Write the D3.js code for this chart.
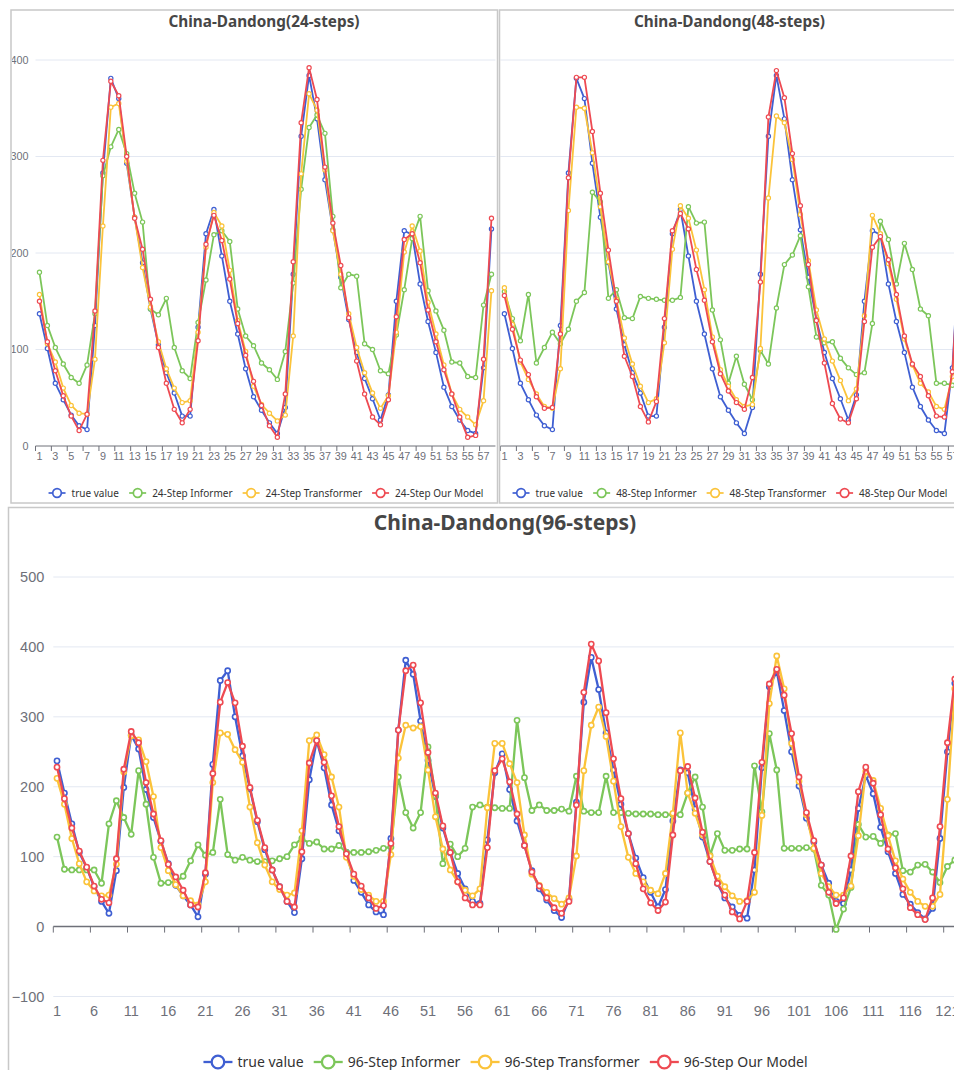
<!DOCTYPE html>
<html>
<head>
<meta charset="utf-8">
<script src="https://cdn.jsdelivr.net/npm/d3@7"></script>
<style>
  body { margin: 0; background: #fff; }
  svg { display: block; font-family: "Noto Sans", "Open Sans", sans-serif; }
</style>
</head>
<body>
<svg id="chart" width="954" height="1070"></svg>
<script>
// ---- data ----
const colors = ["#3f5fd2", "#7cc65a", "#fbc33a", "#ee4a52"];

const steps58 = d3.range(1, 59);
const steps122 = d3.range(1, 123);

// shared true value for the 24 / 48 step panels
const trueValue = [137, 101, 65, 48, 32, 21, 17, 125, 283, 381, 360, 293, 237, 190, 142, 105, 76, 55, 31, 31,
  123, 220, 245, 197, 150, 116, 80, 51, 37, 24, 13, 40, 178, 321, 384, 339, 276, 224, 175, 131,
  97, 70, 49, 27, 53, 150, 223, 219, 168, 129, 97, 61, 41, 27, 16, 13, 81, 225];

const informer24 = [180, 125, 102, 85, 71, 65, 84, 137, 280, 310, 328, 303, 262, 232, 142, 136, 153, 102, 78, 70,
  128, 172, 219, 223, 212, 142, 114, 104, 86, 79, 69, 98, 169, 266, 330, 343, 324, 238, 164, 178,
  176, 106, 100, 78, 75, 115, 162, 215, 238, 161, 140, 120, 87, 86, 72, 71, 146, 178];
const transformer24 = [157, 106, 87, 60, 42, 34, 33, 90, 228, 351, 355, 295, 237, 185, 144, 108, 80, 60, 45, 47,
  118, 206, 242, 228, 182, 130, 98, 62, 43, 34, 26, 32, 114, 282, 365, 348, 286, 223, 178, 137,
  102, 76, 55, 39, 52, 118, 201, 228, 202, 149, 116, 84, 54, 38, 30, 22, 47, 161];
const ourModel24 = [150, 108, 78, 52, 31, 16, 33, 140, 296, 378, 363, 300, 236, 204, 152, 102, 65, 38, 24, 38,
  109, 209, 239, 213, 173, 127, 94, 67, 42, 21, 9, 54, 191, 335, 392, 359, 289, 231, 187, 133,
  88, 54, 30, 22, 48, 134, 214, 220, 190, 141, 108, 79, 54, 30, 9, 11, 90, 236];

const informer48 = [160, 132, 109, 157, 86, 102, 118, 106, 121, 150, 159, 263, 253, 153, 162, 133, 132, 155, 153, 152,
  151, 151, 154, 248, 231, 232, 141, 110, 65, 93, 64, 48, 99, 85, 143, 188, 198, 218, 165, 113,
  107, 108, 91, 81, 74, 76, 127, 233, 214, 168, 210, 183, 142, 135, 65, 65, 63, 62];
const transformer48 = [164, 126, 87, 69, 54, 41, 39, 80, 244, 351, 350, 304, 248, 191, 152, 112, 85, 62, 45, 49,
  107, 204, 249, 236, 203, 162, 113, 79, 62, 48, 41, 43, 101, 257, 342, 335, 297, 240, 192, 141,
  111, 88, 68, 47, 59, 135, 239, 220, 189, 152, 111, 84, 65, 56, 41, 38, 72, 190];
const ourModel48 = [156, 121, 89, 74, 51, 39, 40, 116, 278, 382, 382, 326, 262, 203, 150, 93, 72, 41, 25, 46,
  132, 223, 241, 225, 183, 151, 108, 75, 57, 45, 38, 71, 170, 341, 389, 361, 303, 249, 188, 130,
  86, 44, 28, 24, 49, 129, 206, 217, 193, 157, 114, 85, 72, 52, 31, 30, 77, 220];

const trueValue96 = [237, 191, 147, 106, 84, 57, 36, 19, 80, 199, 274, 254, 196, 156, 122, 90, 59, 44, 31, 14,
  75, 232, 352, 366, 300, 244, 197, 150, 110, 81, 57, 36, 20, 97, 210, 266, 227, 174, 137, 106,
  66, 49, 31, 21, 17, 126, 281, 381, 361, 294, 238, 186, 141, 106, 76, 54, 36, 33, 124, 220,
  247, 196, 151, 116, 80, 54, 38, 23, 13, 39, 178, 321, 385, 339, 277, 224, 175, 133, 98, 70,
  49, 28, 53, 151, 224, 220, 168, 128, 93, 62, 41, 28, 16, 12, 81, 227, 343, 365, 309, 250,
  201, 155, 121, 88, 62, 36, 33, 81, 169, 216, 190, 142, 107, 76, 46, 32, 20, 11, 26, 126,
  250, 348];
const informer96 = [128, 82, 81, 81, 81, 81, 62, 147, 180, 156, 132, 223, 175, 99, 62, 63, 64, 72, 94, 117,
  102, 106, 182, 103, 95, 99, 95, 93, 93, 94, 97, 100, 117, 126, 119, 121, 111, 111, 116, 106,
  106, 106, 107, 109, 112, 114, 214, 163, 141, 163, 257, 187, 90, 118, 100, 112, 171, 174, 171, 170,
  169, 169, 295, 213, 166, 174, 166, 166, 168, 165, 215, 165, 163, 163, 215, 163, 163, 162, 161, 161,
  161, 160, 160, 160, 160, 191, 214, 171, 102, 133, 109, 109, 111, 111, 230, 164, 276, 224, 112, 112,
  112, 113, 111, 59, 45, -4, 25, 56, 146, 128, 129, 119, 131, 133, 80, 78, 88, 89, 78, 63,
  86, 95];
const transformer96 = [212, 175, 126, 90, 64, 51, 44, 45, 89, 221, 273, 267, 236, 186, 113, 80, 60, 44, 37, 31,
  64, 206, 277, 275, 253, 235, 171, 120, 88, 64, 53, 45, 48, 137, 266, 274, 246, 214, 171, 99,
  72, 53, 45, 36, 36, 103, 241, 288, 284, 286, 224, 157, 111, 81, 64, 52, 44, 54, 170, 262,
  262, 233, 206, 131, 75, 59, 49, 40, 32, 41, 101, 223, 288, 314, 272, 208, 143, 99, 76, 64,
  52, 47, 76, 162, 277, 191, 162, 131, 101, 72, 57, 44, 36, 37, 49, 159, 319, 387, 340, 262,
  208, 160, 112, 76, 57, 45, 45, 58, 130, 222, 209, 169, 130, 94, 68, 49, 36, 29, 29, 46,
  182, 340];
const ourModel96 = [228, 183, 141, 108, 85, 58, 39, 34, 97, 225, 279, 263, 206, 161, 123, 89, 71, 52, 31, 28,
  77, 219, 321, 349, 320, 258, 199, 152, 113, 81, 57, 36, 28, 107, 234, 266, 235, 187, 143, 104,
  75, 58, 41, 26, 30, 119, 281, 366, 374, 320, 249, 191, 144, 106, 64, 41, 31, 31, 113, 223,
  240, 207, 161, 116, 78, 58, 41, 27, 19, 36, 174, 335, 404, 380, 306, 240, 183, 133, 90, 54,
  34, 23, 35, 131, 223, 229, 184, 135, 93, 62, 45, 21, 11, 36, 106, 235, 347, 368, 331, 276,
  214, 163, 123, 88, 49, 33, 41, 101, 193, 228, 205, 160, 111, 84, 54, 27, 17, 10, 41, 143,
  263, 354];

const svg = d3.select("#chart");
svg.append("rect").attr("width", 954).attr("height", 1070).attr("fill", "#fff");

function drawPanel(cfg) {
  const clipId = cfg.id + "-clip";
  svg.append("clipPath").attr("id", clipId)
     .append("rect")
     .attr("x", cfg.clip[0]).attr("y", cfg.clip[1])
     .attr("width", cfg.clip[2]).attr("height", cfg.clip[3]);

  const g = svg.append("g").attr("clip-path", `url(#${clipId})`);

  const x = d3.scaleBand()
              .domain(cfg.cats)
              .range([cfg.left, cfg.left + cfg.cats.length * cfg.band]);
  const y = d3.scaleLinear()
              .domain(cfg.yDomain)
              .range(cfg.yRange);
  const cx = d => x(d) + x.bandwidth() / 2;

  // grid lines
  g.append("g")
   .selectAll("line")
   .data(cfg.yTicks.filter(v => v !== 0))
   .join("line")
   .attr("x1", x.range()[0]).attr("x2", x.range()[1])
   .attr("y1", d => y(d)).attr("y2", d => y(d))
   .attr("stroke", "#e3e8f2").attr("stroke-width", 1);

  // y labels
  g.append("g")
   .attr("transform", `translate(${x.range()[0]},0)`)
   .call(d3.axisLeft(y).tickValues(cfg.yTicks).tickSize(0).tickPadding(cfg.yPad))
   .call(a => a.select(".domain").remove())
   .call(a => a.selectAll("text")
               .attr("fill", "#6e7079")
               .style("font-size", cfg.axisFont + "px")
               .style("font-family", "inherit"));

  // x axis line + ticks at the zero line
  const y0 = y(0);
  g.append("line")
   .attr("x1", x.range()[0]).attr("x2", x.range()[1])
   .attr("y1", y0).attr("y2", y0)
   .attr("stroke", "#6e7079").attr("stroke-width", cfg.axisWidth);
  const tickCats = cfg.cats.filter((c, i) => i % cfg.labelEvery === 0);
  g.append("g")
   .selectAll("line")
   .data(tickCats)
   .join("line")
   .attr("x1", d => x(d)).attr("x2", d => x(d))
   .attr("y1", y0).attr("y2", y0 + cfg.tickLen)
   .attr("stroke", "#6e7079").attr("stroke-width", 1);

  // x labels
  g.append("g")
   .attr("transform", `translate(0,${cfg.labelY})`)
   .call(d3.axisBottom(x).tickValues(tickCats).tickSize(0).tickPadding(0))
   .call(a => a.select(".domain").remove())
   .call(a => a.selectAll("text")
               .attr("fill", "#6e7079")
               .style("font-size", cfg.axisFont + "px")
               .style("font-family", "inherit"));

  // series
  const line = d3.line().x((d, i) => cx(cfg.cats[i])).y(d => y(d));
  cfg.series.forEach((s, si) => {
    const sg = g.append("g");
    sg.append("path")
      .datum(s)
      .attr("fill", "none")
      .attr("stroke", colors[si])
      .attr("stroke-width", cfg.lineWidth)
      .attr("stroke-linejoin", "round")
      .attr("d", line);
    sg.selectAll("circle")
      .data(s)
      .join("circle")
      .attr("cx", (d, i) => cx(cfg.cats[i]))
      .attr("cy", d => y(d))
      .attr("r", cfg.dotR)
      .attr("fill", "#fff")
      .attr("stroke", colors[si])
      .attr("stroke-width", cfg.dotStroke);
  });

  // title
  g.append("text")
   .attr("x", cfg.titleX).attr("y", cfg.titleY)
   .attr("text-anchor", "middle")
   .attr("fill", "#464646")
   .style("font-size", cfg.titleFont + "px")
   .style("font-weight", "bold")
   .text(cfg.title);

  // legend
  const lg = g.append("g");
  const items = lg.selectAll("g")
                  .data(cfg.legend)
                  .join("g");
  items.append("line")
       .attr("x1", 0).attr("x2", cfg.iconW)
       .attr("y1", 0).attr("y2", 0)
       .attr("stroke", (d, i) => colors[i])
       .attr("stroke-width", cfg.iconStroke);
  items.append("circle")
       .attr("cx", cfg.iconW / 2).attr("cy", 0)
       .attr("r", cfg.iconR)
       .attr("fill", "#fff")
       .attr("stroke", (d, i) => colors[i])
       .attr("stroke-width", cfg.iconStroke);
  items.append("text")
       .attr("x", cfg.iconW + cfg.iconGap)
       .attr("dy", "0.35em")
       .attr("fill", "#333")
       .style("font-size", cfg.legendFont + "px")
       .text(d => d);
  let pos = 0;
  const offsets = [];
  items.each(function() {
    offsets.push(pos);
    pos += this.getBBox().width + cfg.itemGap;
  });
  const total = pos - cfg.itemGap;
  const start = cfg.legendX - total / 2;
  items.attr("transform", (d, i) => `translate(${start + offsets[i]},${cfg.legendY})`);

  // border
  cfg.border(svg);
}

const topBase = {
  cats: steps58, yDomain: [0, 400], yRange: [446, 60], yTicks: [0, 100, 200, 300, 400],
  yPad: 7, axisFont: 10.8, axisWidth: 1, tickLen: 5, labelEvery: 2, labelY: 452.5,
  lineWidth: 1.8, dotR: 2.1, dotStroke: 1.2,
  titleY: 26.5, titleFont: 15.3, legendY: 493, legendFont: 10,
  iconW: 17, iconR: 4.3, iconStroke: 1.7, iconGap: 6, itemGap: 10
};

drawPanel(Object.assign({}, topBase, {
  id: "p24", clip: [12, 11, 485, 491], left: 35.5, band: 7.93,
  series: [trueValue, informer24, transformer24, ourModel24],
  title: "China-Dandong(24-steps)", titleX: 264, legendX: 266,
  legend: ["true value", "24-Step Informer", "24-Step Transformer", "24-Step Our Model"],
  border: s => s.append("rect").attr("x", 11).attr("y", 10).attr("width", 486.5).attr("height", 493)
               .attr("fill", "none").attr("stroke", "#c8c8c8").attr("stroke-width", 1.5)
}));

drawPanel(Object.assign({}, topBase, {
  id: "p48", clip: [500, 11, 454, 491], left: 500.4, band: 8.0,
  series: [trueValue, informer48, transformer48, ourModel48],
  title: "China-Dandong(48-steps)", titleX: 729.5, legendX: 730,
  legend: ["true value", "48-Step Informer", "48-Step Transformer", "48-Step Our Model"],
  border: s => s.append("path").attr("d", "M954,10H499.5V503H954")
               .attr("fill", "none").attr("stroke", "#c8c8c8").attr("stroke-width", 1.5)
}));

drawPanel({
  id: "p96", clip: [9, 508, 945, 562], cats: steps122, left: 53.3, band: 7.42,
  yDomain: [-100, 500], yRange: [996.5, 577], yTicks: [-100, 0, 100, 200, 300, 400, 500],
  yPad: 9, axisFont: 14.5, axisWidth: 1.5, tickLen: 6, labelEvery: 5, labelY: 1005.5,
  lineWidth: 2.3, dotR: 2.6, dotStroke: 1.6,
  series: [trueValue96, informer96, transformer96, ourModel96],
  title: "China-Dandong(96-steps)", titleX: 505, titleY: 530, titleFont: 21,
  legend: ["true value", "96-Step Informer", "96-Step Transformer", "96-Step Our Model"],
  legendX: 505.5, legendY: 1062, legendFont: 14, iconW: 29, iconR: 6.3, iconStroke: 2.3,
  iconGap: 5, itemGap: 10,
  border: s => s.append("path").attr("d", "M960,507.5H8.5V1075")
               .attr("fill", "none").attr("stroke", "#c8c8c8").attr("stroke-width", 1.5)
});
</script>
</body>
</html>
